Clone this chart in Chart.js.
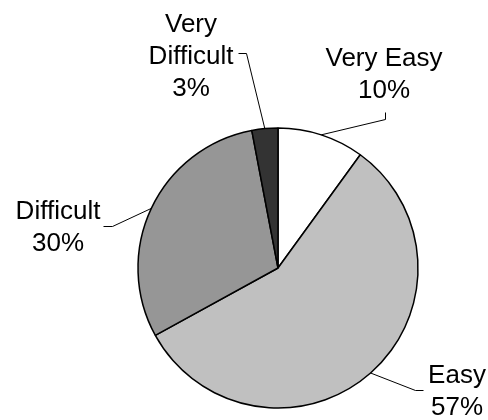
<!DOCTYPE html>
<html>
<head>
<meta charset="utf-8">
<script src="https://cdn.jsdelivr.net/npm/chart.js@4/dist/chart.umd.min.js"></script>
<style>
  html, body { margin: 0; padding: 0; background: #fff; }
  #wrap { width: 488px; height: 420px; }
</style>
</head>
<body>
<div id="wrap"><canvas id="pieChart" width="488" height="420"></canvas></div>
<script>
// data
var categories = ['Very Easy', 'Easy', 'Difficult', 'Very Difficult'];
var percentValues = [10, 57, 30, 3];
var sliceColors = ['#ffffff', '#c0c0c0', '#969696', '#333333'];

// where each label sits, relative to the pie centre (px): text centre x, first baseline y,
// and the elbow of the leader line
var labelPlaces = [
  { dx: 106, dy: -202, wrap: false, elbow: [[107, -149], [107, -156]] },
  { dx: 179, dy: 115, wrap: false, elbow: [[137, 122], [145, 122]] },
  { dx: -220, dy: -49, wrap: false, elbow: [[-166, -42], [-175, -42]] },
  { dx: -87, dy: -236, wrap: true, elbow: [[-32, -215], [-40, -215]] }
];

var outsideLabels = {
  id: 'outsideLabels',
  afterDraw: function(chart) {
    var ctx = chart.ctx;
    var arcs = chart.getDatasetMeta(0).data;
    ctx.save();
    ctx.font = '26px "Liberation Sans", Arial, sans-serif';
    ctx.fillStyle = '#000';
    ctx.strokeStyle = '#000';
    ctx.lineWidth = 1;
    ctx.textAlign = 'center';
    ctx.textBaseline = 'alphabetic';
    arcs.forEach(function(arc, i) {
      var p = labelPlaces[i];
      var cx = arc.x, cy = arc.y;
      var mid = (arc.startAngle + arc.endAngle) / 2;
      var ex = cx + Math.cos(mid) * arc.outerRadius;
      var ey = cy + Math.sin(mid) * arc.outerRadius;
      ctx.beginPath();
      ctx.moveTo(ex, ey);
      p.elbow.forEach(function(pt) { ctx.lineTo(cx + pt[0] + 0.5, cy + pt[1] + 0.5); });
      ctx.stroke();
      var lines = p.wrap ? categories[i].split(' ') : [categories[i]];
      lines.push(percentValues[i] + '%');
      lines.forEach(function(t, k) {
        ctx.fillText(t, cx + p.dx, cy + p.dy + k * 32);
      });
    });
    ctx.restore();
  }
};

var ctx = document.getElementById('pieChart').getContext('2d');
var pieChart = new Chart(ctx, {
  type: 'pie',
  data: {
    labels: categories,
    datasets: [{
      data: percentValues,
      backgroundColor: sliceColors,
      borderColor: '#000',
      borderWidth: 1.5,
      borderAlign: 'center'
    }]
  },
  options: {
    responsive: false,
    animation: false,
    radius: 140,
    layout: { padding: { left: 138, right: 70, top: 128, bottom: 12 } },
    plugins: {
      legend: { display: false },
      tooltip: { enabled: false }
    }
  },
  plugins: [outsideLabels]
});
</script>
</body>
</html>
